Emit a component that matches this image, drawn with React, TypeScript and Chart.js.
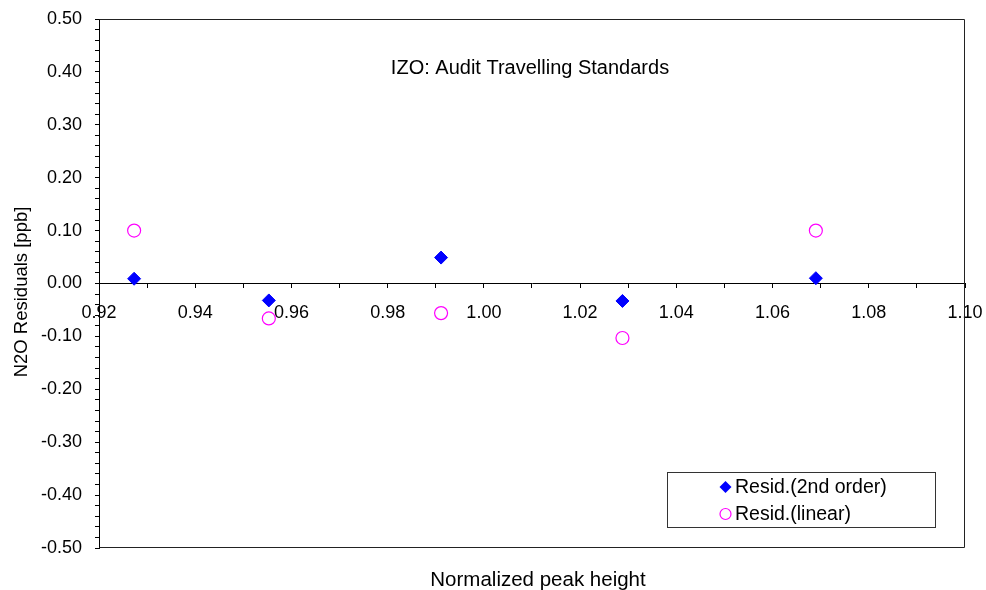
import React, { useEffect, useRef } from 'react';
import { Chart, registerables } from 'chart.js';

Chart.register(...registerables);

const peakHeights = [0.9273, 0.9553, 0.9911, 1.0288, 1.069];
const residSecondOrder = [0.009, -0.032, 0.049, -0.033, 0.01];
const residLinear = [0.1, -0.066, -0.056, -0.103, 0.1];
const seriesNames = ['Resid.(2nd order)', 'Resid.(linear)'];
const chartTitle = 'IZO: Audit Travelling Standards';
const xAxisTitle = 'Normalized peak height';
const yAxisTitle = 'N2O Residuals [ppb]';

const FONT = '"Liberation Sans", Arial, sans-serif';

const overlay = {
  id: 'overlay',
  beforeDatasetsDraw(chart: any) {
    const { ctx, chartArea: a } = chart;
    ctx.save();
    ctx.strokeStyle = '#222';
    ctx.lineWidth = 1;
    const l = Math.round(a.left) + 0.5;
    const t = Math.round(a.top) + 0.5;
    const r = Math.round(a.right) - 0.5;
    const b = Math.round(a.bottom) - 0.5;
    ctx.beginPath();
    ctx.moveTo(l, t);
    ctx.lineTo(r, t);
    ctx.lineTo(r, b);
    ctx.lineTo(l, b);
    ctx.stroke();
    ctx.restore();
  },
  afterDraw(chart: any) {
    const { ctx } = chart;
    ctx.save();
    ctx.fillStyle = '#000';
    ctx.font = `20px ${FONT}`;
    ctx.textAlign = 'center';
    ctx.textBaseline = 'alphabetic';
    ctx.fillText(chartTitle, 530, 74);
    ctx.font = `20.5px ${FONT}`;
    ctx.fillText(xAxisTitle, 538, 586);
    ctx.save();
    ctx.translate(27, 292);
    ctx.rotate(-Math.PI / 2);
    ctx.font = `18.5px ${FONT}`;
    ctx.fillText(yAxisTitle, 0, 0);
    ctx.restore();

    const bx = 667.5, by = 472.5, bw = 268, bh = 55;
    ctx.fillStyle = '#fff';
    ctx.fillRect(bx, by, bw, bh);
    ctx.strokeStyle = '#333';
    ctx.lineWidth = 1;
    ctx.strokeRect(bx, by, bw, bh);
    const ds = chart.data.datasets;
    const rows = [487, 514];
    ctx.font = `19.5px ${FONT}`;
    ctx.textAlign = 'left';
    ctx.textBaseline = 'middle';
    ds.forEach((d: any, i: number) => {
      const cx = 725.5;
      const cy = rows[i];
      ctx.beginPath();
      if (d.pointStyle === 'rectRot') {
        const r = 6;
        ctx.moveTo(cx - r, cy);
        ctx.lineTo(cx, cy - r);
        ctx.lineTo(cx + r, cy);
        ctx.lineTo(cx, cy + r);
        ctx.closePath();
        ctx.fillStyle = d.backgroundColor;
        ctx.fill();
      } else {
        ctx.arc(cx, cy, 5.5, 0, Math.PI * 2);
        ctx.strokeStyle = d.borderColor;
        ctx.lineWidth = 1.2;
        ctx.stroke();
      }
      ctx.fillStyle = '#000';
      ctx.fillText(d.label, 735, cy + 1);
    });
    ctx.restore();
  },
};

export default function App() {
  const ref = useRef<HTMLCanvasElement | null>(null);
  useEffect(() => {
    document.body.style.margin = '0';
    const canvas = ref.current;
    if (!canvas) return;
    const chart = new Chart(canvas, {
      type: 'scatter',
      data: {
        datasets: [
          {
            label: seriesNames[0],
            data: peakHeights.map((x, i) => ({ x, y: residSecondOrder[i] })),
            pointStyle: 'rectRot',
            pointRadius: 6.5,
            pointHoverRadius: 6.5,
            backgroundColor: '#0000FF',
            borderColor: '#0000FF',
            borderWidth: 1,
          },
          {
            label: seriesNames[1],
            data: peakHeights.map((x, i) => ({ x, y: residLinear[i] })),
            pointStyle: 'circle',
            pointRadius: 6.5,
            pointHoverRadius: 6.5,
            backgroundColor: 'rgba(0,0,0,0)',
            borderColor: '#FF00FF',
            borderWidth: 1.2,
          },
        ],
      },
      options: {
        responsive: false,
        animation: false,
        layout: { padding: { left: 0, right: 21, top: 19, bottom: 42 } },
        plugins: {
          legend: { display: false },
          tooltip: { enabled: false },
          title: { display: false },
        },
        scales: {
          x: {
            type: 'linear',
            min: 0.92,
            max: 1.1,
            position: { y: 0 },
            afterFit: (s: any) => {
              s.paddingLeft = 0;
              s.paddingRight = 0;
            },
            grid: { drawOnChartArea: false, drawTicks: true, tickLength: 4, color: '#000' },
            border: { display: true, color: '#000', width: 1 },
            ticks: {
              stepSize: 0.01,
              autoSkip: false,
              maxRotation: 0,
              padding: 15,
              color: '#000',
              font: { family: FONT, size: 18 },
              callback: (v: any, i: number) => (i % 2 === 0 ? Number(v).toFixed(2) : ''),
            },
          },
          y: {
            type: 'linear',
            min: -0.5,
            max: 0.5,
            afterFit: (s: any) => {
              s.width = 99;
              s.paddingTop = 0;
              s.paddingBottom = 0;
            },
            grid: { drawOnChartArea: false, drawTicks: true, tickLength: 4, color: '#000' },
            border: { display: true, color: '#000', width: 1 },
            ticks: {
              stepSize: 0.02,
              autoSkip: false,
              padding: 13,
              color: '#000',
              font: { family: FONT, size: 18 },
              callback: (v: any) => {
                const n = Number(v);
                const t = Math.round(n * 10);
                if (Math.abs(n * 10 - t) > 1e-6) return '';
                const val = t / 10;
                return (Math.abs(val) < 1e-9 ? 0 : val).toFixed(2);
              },
            },
          },
        },
      },
      plugins: [overlay],
    });
    return () => chart.destroy();
  }, []);
  return (
    <div style={{ width: 986, height: 590, position: 'relative', background: '#fff' }}>
      <canvas ref={ref} width={986} height={590} style={{ display: 'block' }} />
    </div>
  );
}
